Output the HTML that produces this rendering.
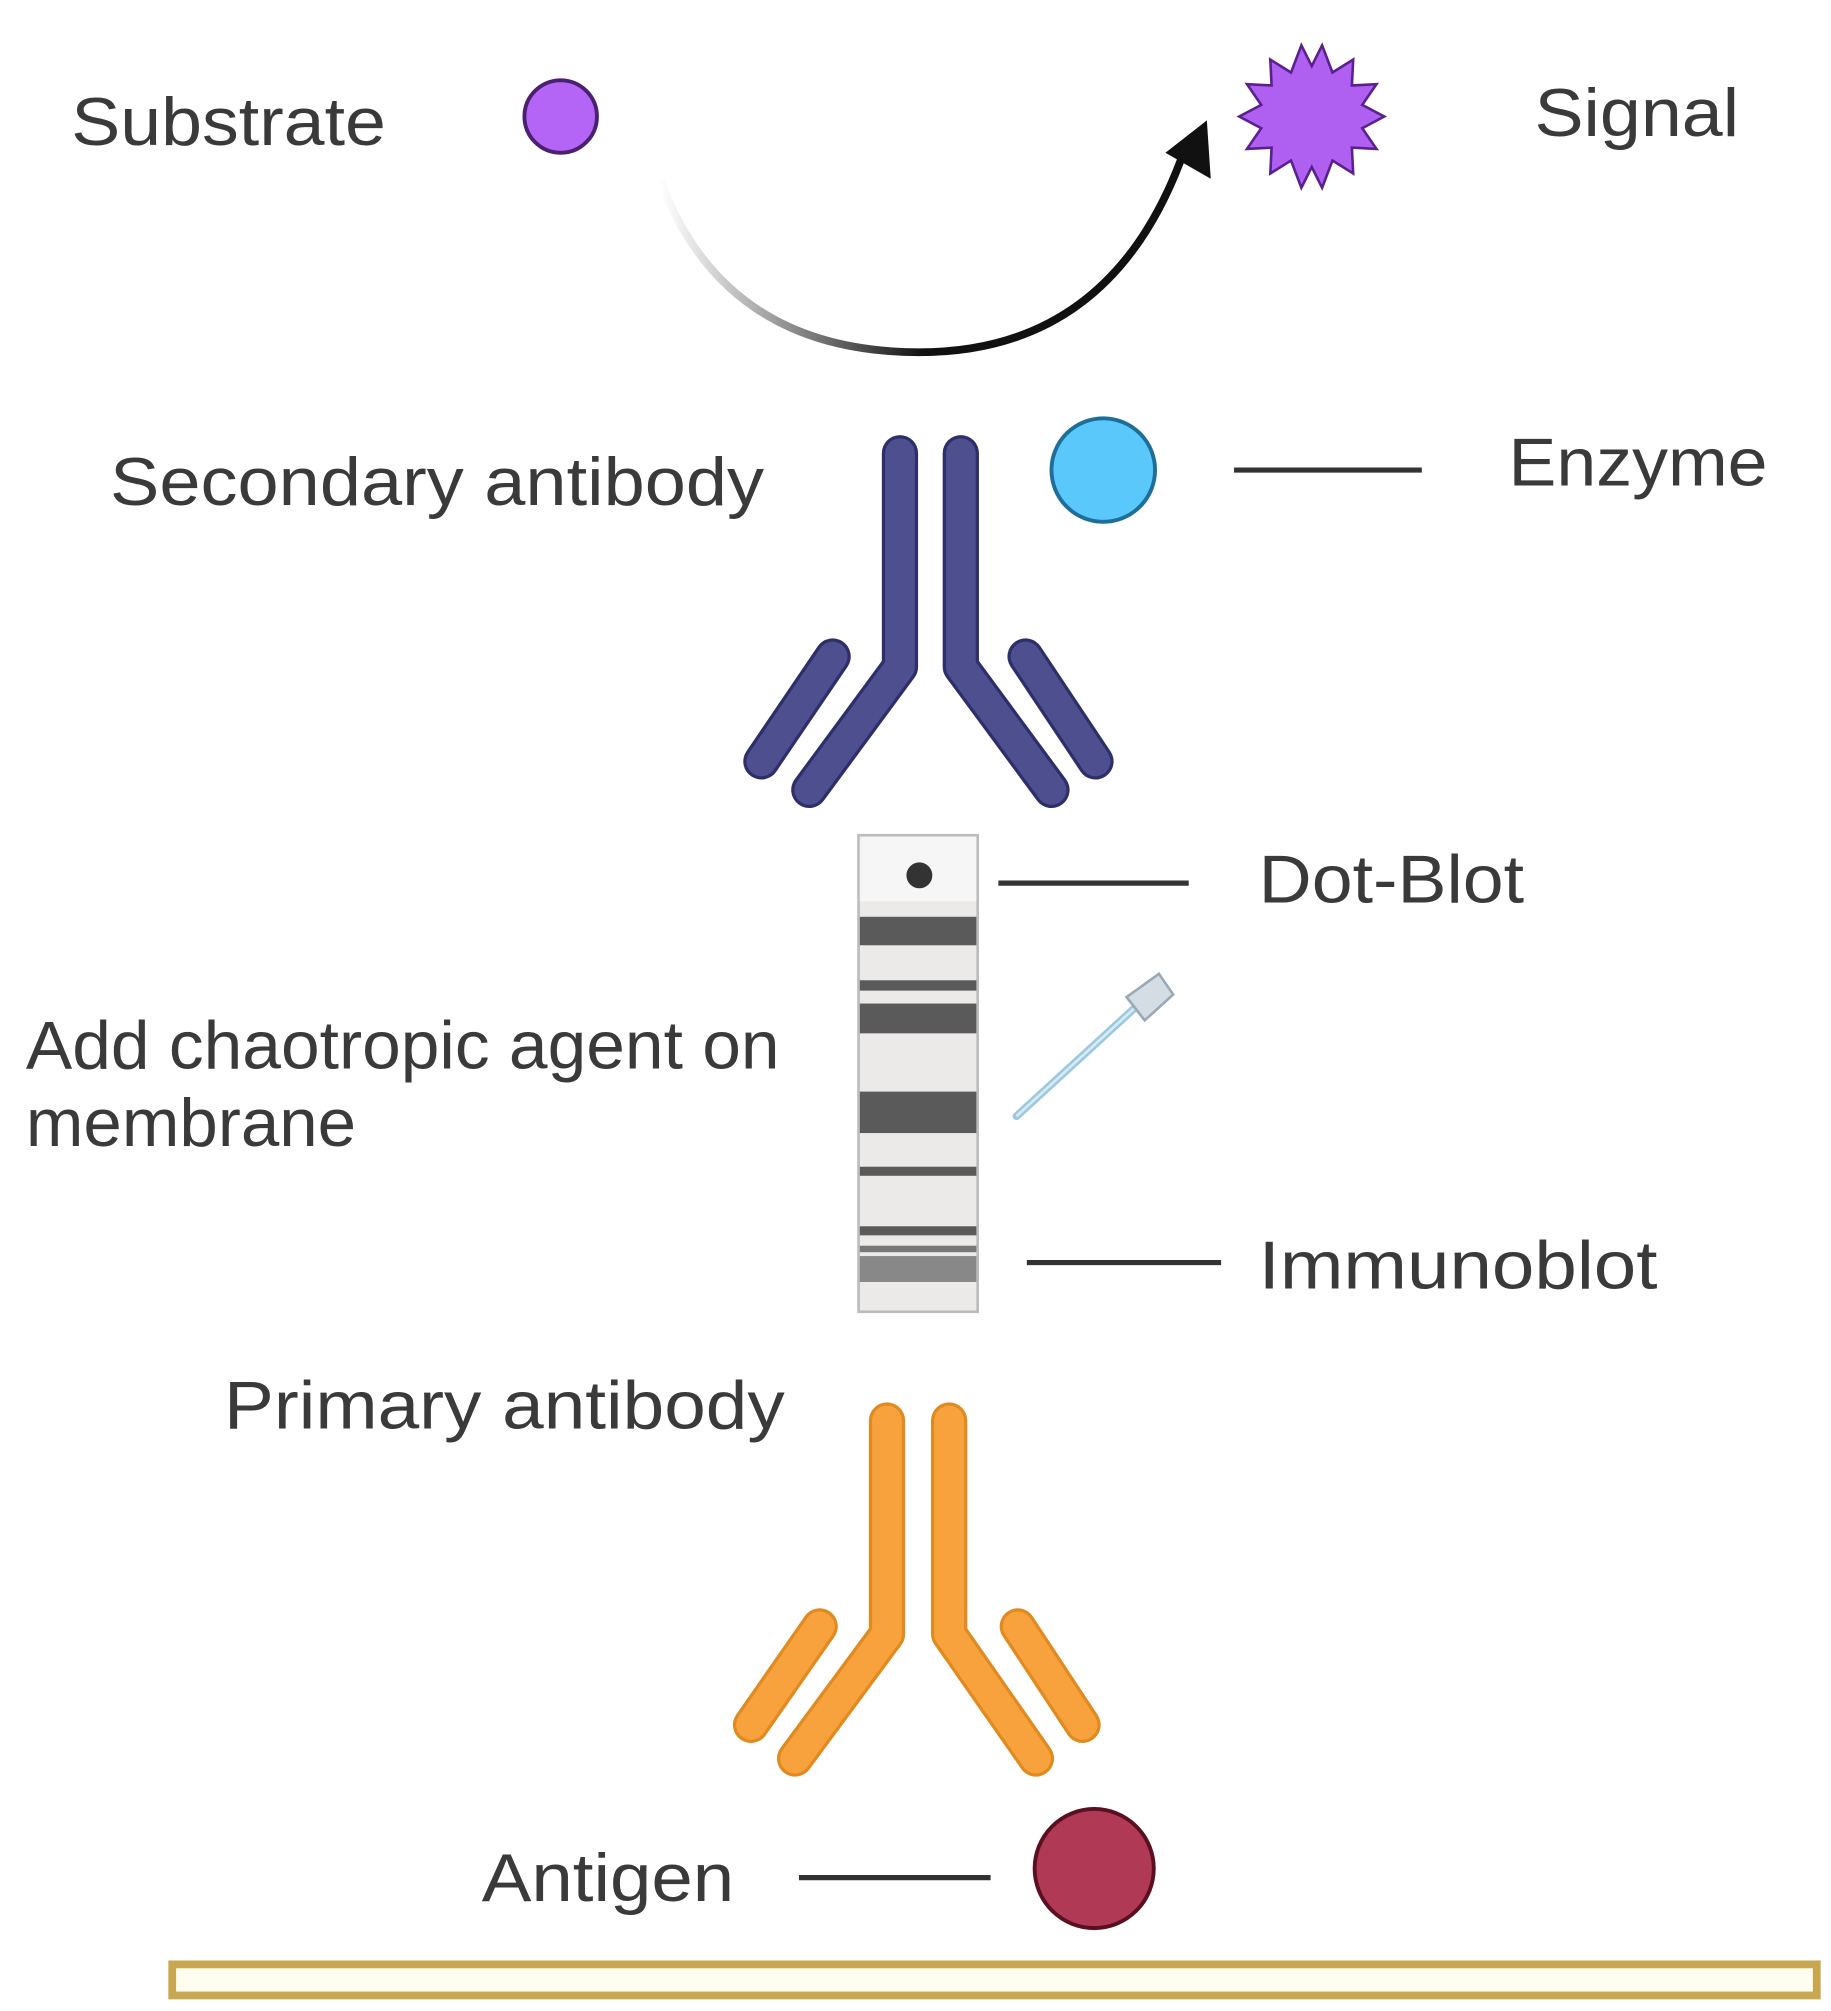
<!DOCTYPE html>
<html><head><meta charset="utf-8"><style>html,body{margin:0;padding:0;background:#fff}svg{display:block}</style></head>
<body>
<svg width="1831" height="2011" viewBox="0 0 1414 1553" preserveAspectRatio="none" xmlns="http://www.w3.org/2000/svg">
<defs>
<linearGradient id="ag" x1="510" y1="140" x2="930" y2="100" gradientUnits="userSpaceOnUse">
<stop offset="0" stop-color="#fff"/><stop offset="0.45" stop-color="#111"/><stop offset="1" stop-color="#111"/>
</linearGradient>
</defs>
<g font-family="Liberation Sans, sans-serif" font-size="52" fill="#3a3a3a">
<text x="55" y="112" textLength="243" lengthAdjust="spacingAndGlyphs">Substrate</text>
<text x="1185" y="105" textLength="158" lengthAdjust="spacingAndGlyphs">Signal</text>
<text x="85" y="390" textLength="505" lengthAdjust="spacingAndGlyphs">Secondary antibody</text>
<text x="1165" y="375" textLength="200" lengthAdjust="spacingAndGlyphs">Enzyme</text>
<text x="972" y="697" textLength="205" lengthAdjust="spacingAndGlyphs">Dot-Blot</text>
<text x="20" y="825" textLength="582" lengthAdjust="spacingAndGlyphs">Add chaotropic agent on</text>
<text x="20" y="885" textLength="255" lengthAdjust="spacingAndGlyphs">membrane</text>
<text x="972" y="995" textLength="308" lengthAdjust="spacingAndGlyphs">Immunoblot</text>
<text x="173" y="1103" textLength="433" lengthAdjust="spacingAndGlyphs">Primary antibody</text>
<text x="372" y="1468" textLength="195" lengthAdjust="spacingAndGlyphs">Antigen</text>
</g>
<circle cx="433" cy="90" r="28" fill="#b565f5" stroke="#4a2070" stroke-width="3"/>
<polygon fill="#b060f0" stroke="#5a2090" stroke-width="2" points="1069,90 1052,99 1063,115 1044,114 1045,134 1029,124 1021,145 1013,129 1005,145 997,124 981,134 982,114 963,115 974,99 957,90 974,81 963,65 982,66 981,46 997,56 1005,35 1013,51 1021,35 1029,56 1045,46 1044,66 1063,65 1052,81"/>
<path d="M510 140 Q560 272 710 272 Q860 272 915 115" fill="none" stroke="url(#ag)" stroke-width="6"/>
<polygon points="932,93 935,138 900,118" fill="#111"/>
<g fill="none" stroke-linecap="round" stroke-linejoin="round">
<g stroke="#2e2e6a" stroke-width="28">
<path d="M695 350 V515 L625 610"/><path d="M742 350 V515 L812 610"/>
<path d="M643 507 L588 588"/><path d="M792 507 L846 588"/>
</g>
<g stroke="#4d4f8e" stroke-width="23">
<path d="M695 350 V515 L625 610"/><path d="M742 350 V515 L812 610"/>
<path d="M643 507 L588 588"/><path d="M792 507 L846 588"/>
</g>
<g stroke="#e08a20" stroke-width="28">
<path d="M685 1097 V1262 L614 1358"/><path d="M733 1097 V1262 L800 1358"/>
<path d="M633 1256 L580 1332"/><path d="M786 1256 L836 1332"/>
</g>
<g stroke="#f8a23e" stroke-width="23">
<path d="M685 1097 V1262 L614 1358"/><path d="M733 1097 V1262 L800 1358"/>
<path d="M633 1256 L580 1332"/><path d="M786 1256 L836 1332"/>
</g>
</g>
<circle cx="852" cy="363" r="40" fill="#5ac8fa" stroke="#1e6e9a" stroke-width="3"/>
<g stroke="#333" stroke-width="4">
<line x1="953" y1="363" x2="1098" y2="363"/>
<line x1="771" y1="682" x2="918" y2="682"/>
<line x1="793" y1="975" x2="943" y2="975"/>
<line x1="617" y1="1450" x2="765" y2="1450"/>
</g>
<rect x="663" y="645" width="92" height="368" fill="#ece9e9" stroke="#bbb" stroke-width="2"/>
<rect x="664" y="646" width="90" height="50" fill="#f7f6f6"/>
<circle cx="710" cy="676" r="10" fill="#333"/>
<g fill="#5a5a5a">
<rect x="664" y="708" width="90" height="22"/>
<rect x="664" y="757" width="90" height="8"/>
<rect x="664" y="775" width="90" height="23"/>
<rect x="664" y="843" width="90" height="32"/>
<rect x="664" y="901" width="90" height="7"/>
<rect x="664" y="947" width="90" height="7"/>
<rect x="664" y="962" width="90" height="5" fill="#777"/>
<rect x="664" y="970" width="90" height="20" fill="#888"/>
</g>
<path d="M785 862 L880 775" stroke="#9cc8e0" stroke-width="6" stroke-linecap="round"/>
<path d="M785 862 L880 775" stroke="#d8ecf6" stroke-width="2"/>
<polygon points="870,770 895,752 906,768 884,788" fill="#d4dde4" stroke="#9aa9b5" stroke-width="2"/>
<circle cx="845" cy="1443" r="46" fill="#b03a55" stroke="#5a1020" stroke-width="3"/>
<rect x="133" y="1517" width="1270" height="24" fill="#fffdf0" stroke="#c9a650" stroke-width="6"/>
</svg>
</body></html>
